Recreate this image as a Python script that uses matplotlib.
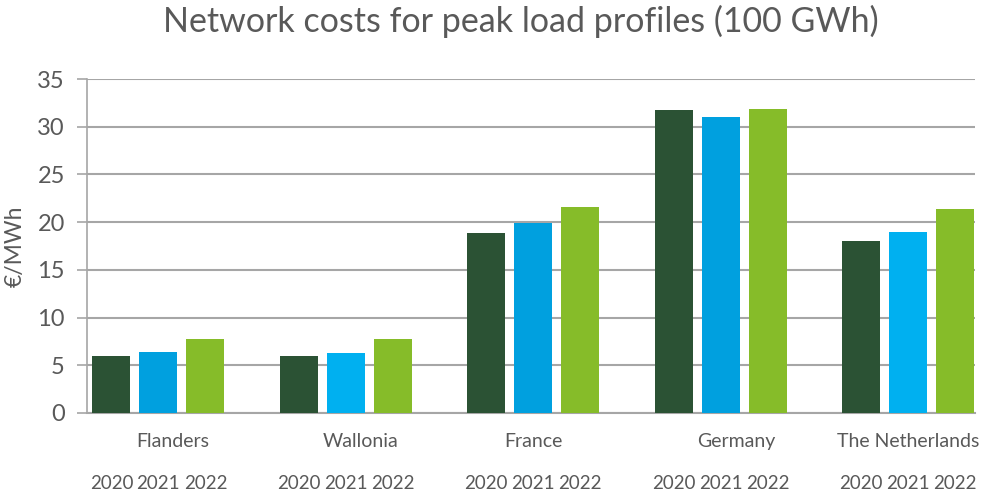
import numpy as np
import matplotlib.pyplot as plt
import matplotlib.transforms as mtransforms

plt.rcParams['font.family'] = ['Lato', 'DejaVu Sans']

regions = ['Flanders', 'Wallonia', 'France', 'Germany', 'The Netherlands']
years = ['2020', '2021', '2022']
cost_2020 = [6.0, 6.0, 18.9, 31.8, 18.0]
cost_2021 = [6.35, 6.3, 19.9, 31.0, 18.95]
cost_2022 = [7.8, 7.8, 21.6, 31.9, 21.4]

c2020 = '#2b5234'
c2021 = ['#00a0df', '#00b0f0', '#00a0df', '#00a0df', '#00b0f0']
c2022 = '#86bc29'
text_col = '#595959'
grid_col = '#a6a6a6'

fig = plt.figure(figsize=(9.82, 4.94), dpi=100)
ax = fig.add_axes([0.0886, 0.164, 0.9043, 0.676])

x = np.arange(len(regions))
step = 0.251
width = 0.203
ax.bar(x - step, cost_2020, width, color=c2020, zorder=3)
ax.bar(x, cost_2021, width, color=c2021, zorder=3)
ax.bar(x + step, cost_2022, width, color=c2022, zorder=3)

ax.set_xlim(-0.381, 4.357)
ax.set_ylim(0, 35)
ax.set_yticks(range(0, 36, 5))
ax.yaxis.grid(True, color=grid_col, linewidth=1.5, zorder=0)
ax.set_xticks([])
for s in ['top', 'right']:
    ax.spines[s].set_visible(False)
ax.spines['left'].set_color(grid_col)
ax.spines['bottom'].set_color(grid_col)
ax.spines['left'].set_linewidth(1.2)
ax.spines['bottom'].set_linewidth(1.5)
ax.tick_params(axis='y', colors=grid_col, labelcolor=text_col, labelsize=17,
               length=7, width=1.2, pad=9)

ax.set_ylabel('€/MWh', fontsize=16.5, color=text_col, va='center')
ax.yaxis.set_label_coords(-0.081, 0.5)
fig.suptitle('Network costs for peak load profiles (100 GWh)', fontsize=24.5,
             color=text_col, x=0.53, y=0.99)

trans = mtransforms.blended_transform_factory(ax.transData, ax.transAxes)
label_shift = [0.075, 0.08, 0.0, 0.085, 0.0]
for i, name in enumerate(regions):
    ax.text(x[i] + label_shift[i], -0.084, name, transform=trans, ha='center', va='center',
            fontsize=14, color=text_col)
    for j, yr in enumerate(years):
        ax.text(x[i] + (j - 1) * step, -0.21, yr, transform=trans, ha='center',
                va='center', fontsize=13.5, color=text_col)

fig.savefig('out.png', dpi=100)
